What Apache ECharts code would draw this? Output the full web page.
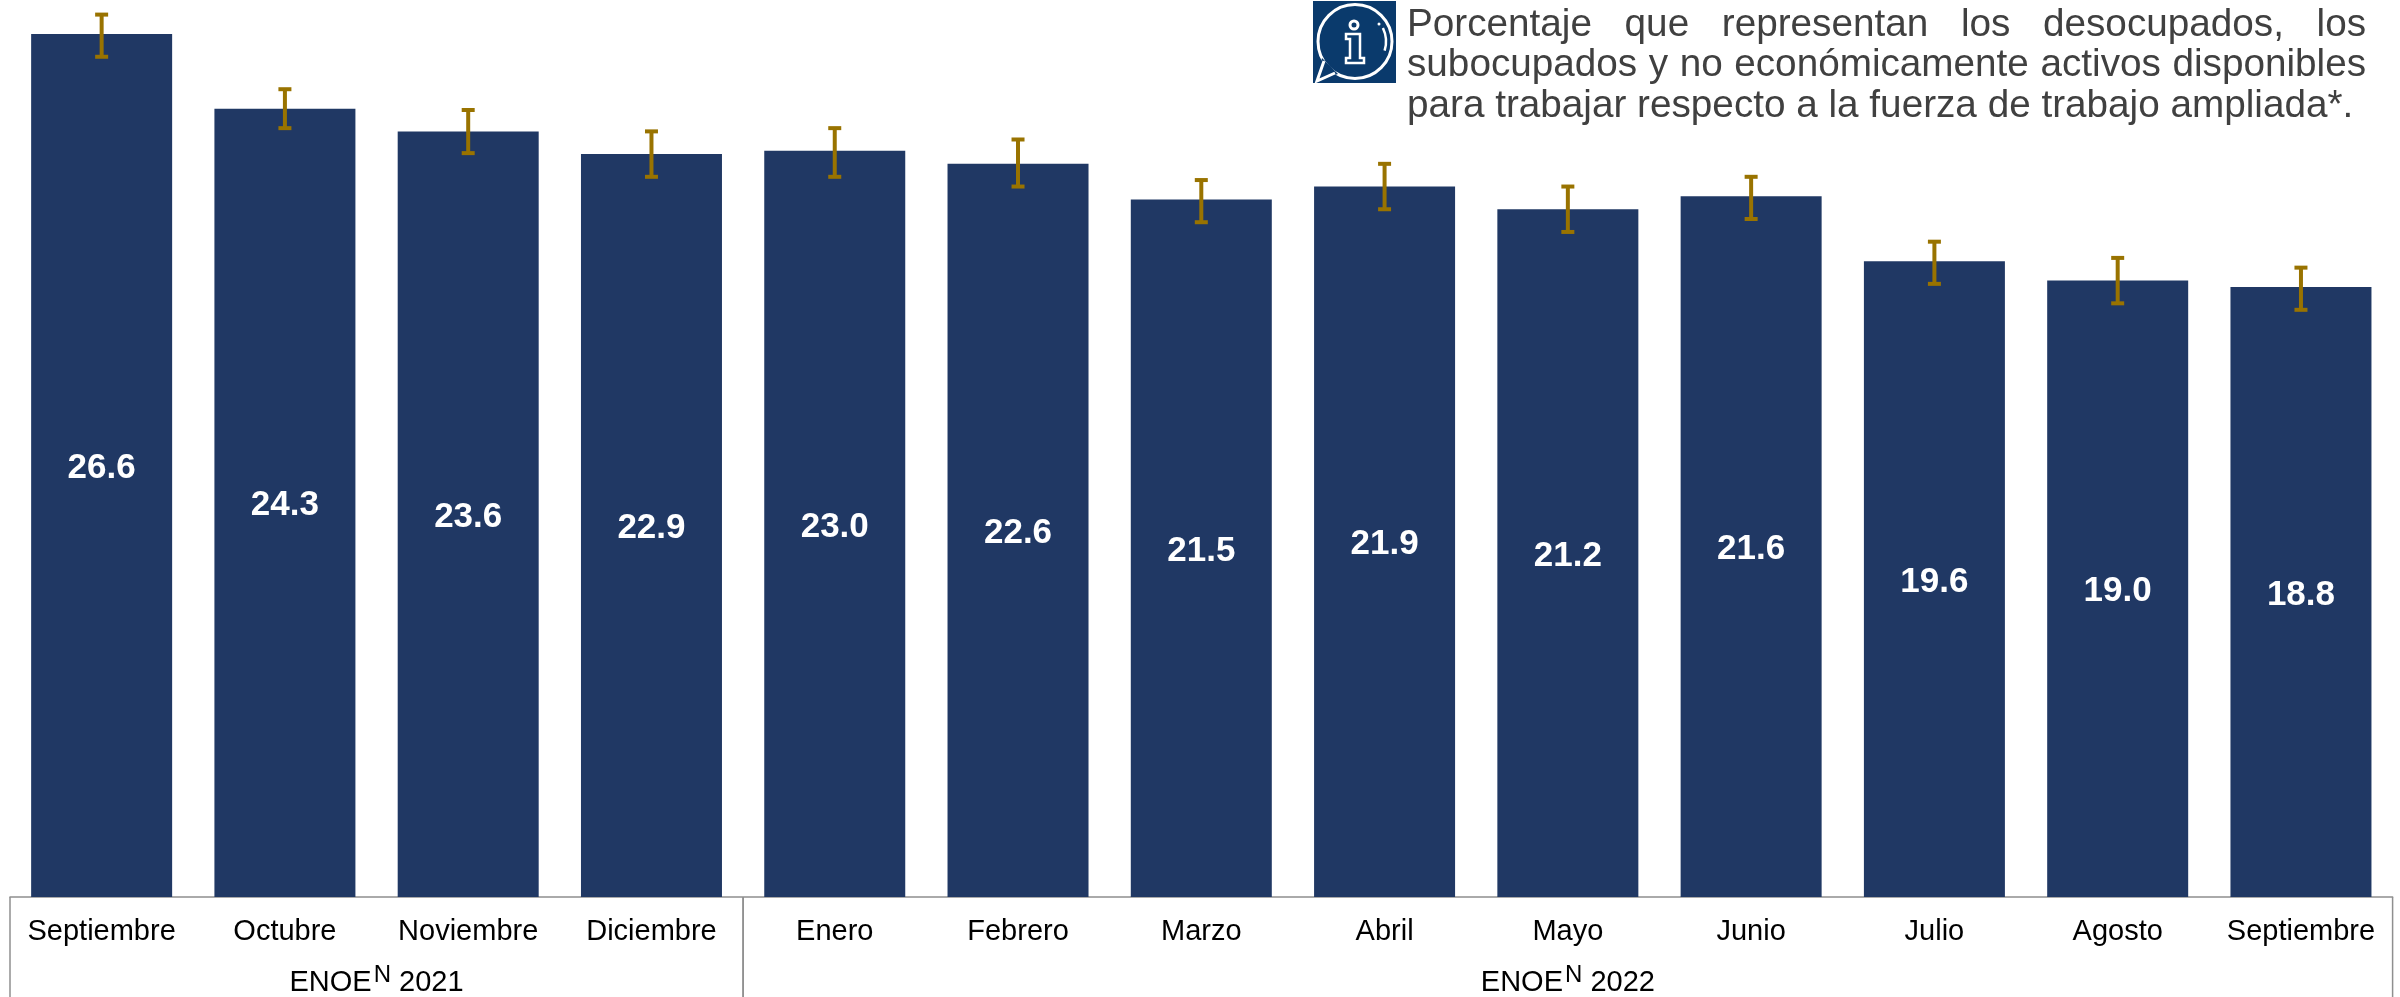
<!DOCTYPE html>
<html>
<head>
<meta charset="utf-8">
<title>Tasa de subutilización</title>
<style>
  html, body { margin: 0; padding: 0; background: #fff; }
  #chart { width: 2400px; height: 997px; }
</style>
<script src="https://cdn.jsdelivr.net/npm/echarts@6/dist/echarts.min.js"></script>
</head>
<body>
<div id="chart"></div>
<script>
const months = ['Septiembre', 'Octubre', 'Noviembre', 'Diciembre', 'Enero', 'Febrero', 'Marzo', 'Abril', 'Mayo', 'Junio', 'Julio', 'Agosto', 'Septiembre']
const values = [26.6, 24.3, 23.6, 22.9, 23.0, 22.6, 21.5, 21.9, 21.2, 21.6, 19.6, 19.0, 18.8]
// limites del intervalo de confianza
const lower = [25.9, 23.7, 22.93, 22.2, 22.2, 21.9, 20.8, 21.2, 20.5, 20.9, 18.9, 18.3, 18.1]
const upper = [27.2, 24.9, 24.26, 23.6, 23.7, 23.35, 22.1, 22.6, 21.9, 22.2, 20.2, 19.7, 19.4]

const groupLabels = ['2021', '2022']
const groupStart = [0, 4]
const groupEnd = [3, 12]

const noteLines = [
  'Porcentaje que representan los desocupados, los',
  'subocupados y no económicamente activos disponibles',
  'para trabajar respecto a la fuerza de trabajo ampliada*.',
]

const FONT = '"Liberation Sans", Arial, sans-serif'
const BOX_COLOR = '#8f8f8f'
const NOTE_FONT = '38.7px ' + FONT

// parrafo justificado: cada palabra se coloca por separado
function noteText() {
  const ctx = document.createElement('canvas').getContext('2d')
  ctx.font = NOTE_FONT
  const left = 1407
  const right = 2366
  const spaceWidth = ctx.measureText(' ').width
  let items = []
  noteLines.forEach((line, i) => {
    const words = line.split(' ')
    const widths = words.map((w) => ctx.measureText(w).width)
    const total = widths.reduce((a, b) => a + b, 0)
    const justified = i < noteLines.length - 1
    const gap = justified ? (right - left - total) / (words.length - 1) : spaceWidth
    let x = left
    words.forEach((w, j) => {
      items.push({
        type: 'text',
        x: x,
        y: 25 + i * 40.5,
        style: { text: w, font: NOTE_FONT, fill: '#404040', align: 'left', verticalAlign: 'middle' },
      })
      x += widths[j] + gap
    })
  })
  return items
}

function infoIcon() {
  const bg = '#0a3a6c'
  const line = { fill: 'none', stroke: '#fff', lineWidth: 3 }
  return [
    { type: 'rect', shape: { x: 1313, y: 1, width: 83, height: 82 }, style: { fill: bg } },
    { type: 'circle', shape: { cx: 1355, cy: 41.5, r: 37 }, style: line },
    { type: 'polygon', shape: { points: [[1322, 58], [1317, 81], [1338, 74]] }, style: { fill: bg } },
    { type: 'polyline', shape: { points: [[1324, 61], [1317, 81], [1335, 73]] }, style: line },
    { type: 'arc', shape: { cx: 1355, cy: 41.5, r: 31, startAngle: -0.45, endAngle: 0.3 }, style: { fill: 'none', stroke: '#fff', lineWidth: 2.5 } },
    { type: 'circle', shape: { cx: 1379, cy: 24, r: 1.5 }, style: { fill: '#fff' } },
    { type: 'circle', shape: { cx: 1354, cy: 25, r: 4 }, style: line },
    {
      type: 'polygon',
      shape: { points: [[1346, 34], [1360, 34], [1360, 58], [1364, 58], [1364, 63], [1346, 63], [1346, 58], [1350, 58], [1350, 39], [1346, 39]] },
      style: { fill: 'none', stroke: '#fff', lineWidth: 2.5 },
    },
  ]
}

function renderErrorBar(params, api) {
  const x = api.value(0)
  const low = api.coord([x, api.value(1)])
  const high = api.coord([x, api.value(2)])
  const style = { fill: '#997300' }
  return {
    type: 'group',
    children: [
      { type: 'rect', shape: { x: low[0] - 2, y: high[1], width: 4, height: low[1] - high[1] }, style },
      { type: 'rect', shape: { x: low[0] - 6.5, y: high[1] - 2, width: 13, height: 4 }, style },
      { type: 'rect', shape: { x: low[0] - 6.5, y: low[1] - 2, width: 13, height: 4 }, style },
    ],
  }
}

// caja inferior con los grupos de meses
function renderGroup(params, api) {
  const half = api.size([1, 0])[0] / 2
  const base = api.coord([api.value(0), 0])
  const x0 = base[0] - half
  const x1 = api.coord([api.value(1), 0])[0] + half
  const y0 = base[1]
  const y1 = y0 + 100
  const style = { stroke: BOX_COLOR, lineWidth: 1.5 }
  return {
    type: 'group',
    children: [
      { type: 'line', shape: { x1: x0, y1: y0, x2: x0, y2: y1 }, style },
      { type: 'line', shape: { x1: x1, y1: y0, x2: x1, y2: y1 }, style },
      {
        type: 'text',
        x: (x0 + x1) / 2,
        y: y0 + 86,
        style: {
          text: 'ENOE{n|N} ' + groupLabels[params.dataIndex],
          font: '29px ' + FONT,
          fill: '#000',
          align: 'center',
          verticalAlign: 'middle',
          rich: { n: { font: '24px ' + FONT, fill: '#000', padding: [0, 0, 16, 2] } },
        },
      },
    ],
  }
}

const chart = echarts.init(document.getElementById('chart'), null, { renderer: 'canvas' })

chart.setOption({
  animation: false,
  backgroundColor: '#fff',
  grid: { left: 10, right: 7.4, top: 0, bottom: 100 },
  xAxis: {
    type: 'category',
    data: months,
    axisLine: { show: true, lineStyle: { color: BOX_COLOR, width: 1.5 } },
    axisTick: { show: false },
    axisLabel: { interval: 0, margin: 20, color: '#000', fontSize: 29, fontFamily: FONT },
  },
  yAxis: { type: 'value', min: 0, max: 27.65, show: false },
  series: [
    {
      type: 'bar',
      data: values,
      barWidth: 141,
      itemStyle: { color: '#203864' },
      label: {
        show: true,
        position: 'inside',
        offset: [0, 3],
        color: '#fff',
        fontSize: 35,
        fontWeight: 'bold',
        fontFamily: FONT,
        formatter: (p) => p.value.toFixed(1),
      },
    },
    {
      type: 'custom',
      renderItem: renderErrorBar,
      data: values.map((v, i) => [i, lower[i], upper[i]]),
      encode: { x: 0, y: [1, 2] },
      z: 5,
    },
    {
      type: 'custom',
      renderItem: renderGroup,
      data: groupStart.map((s, i) => [s, groupEnd[i]]),
      encode: { x: [0, 1] },
      clip: false,
      z: 5,
    },
  ],
  graphic: infoIcon().concat(noteText()),
})
</script>
</body>
</html>
